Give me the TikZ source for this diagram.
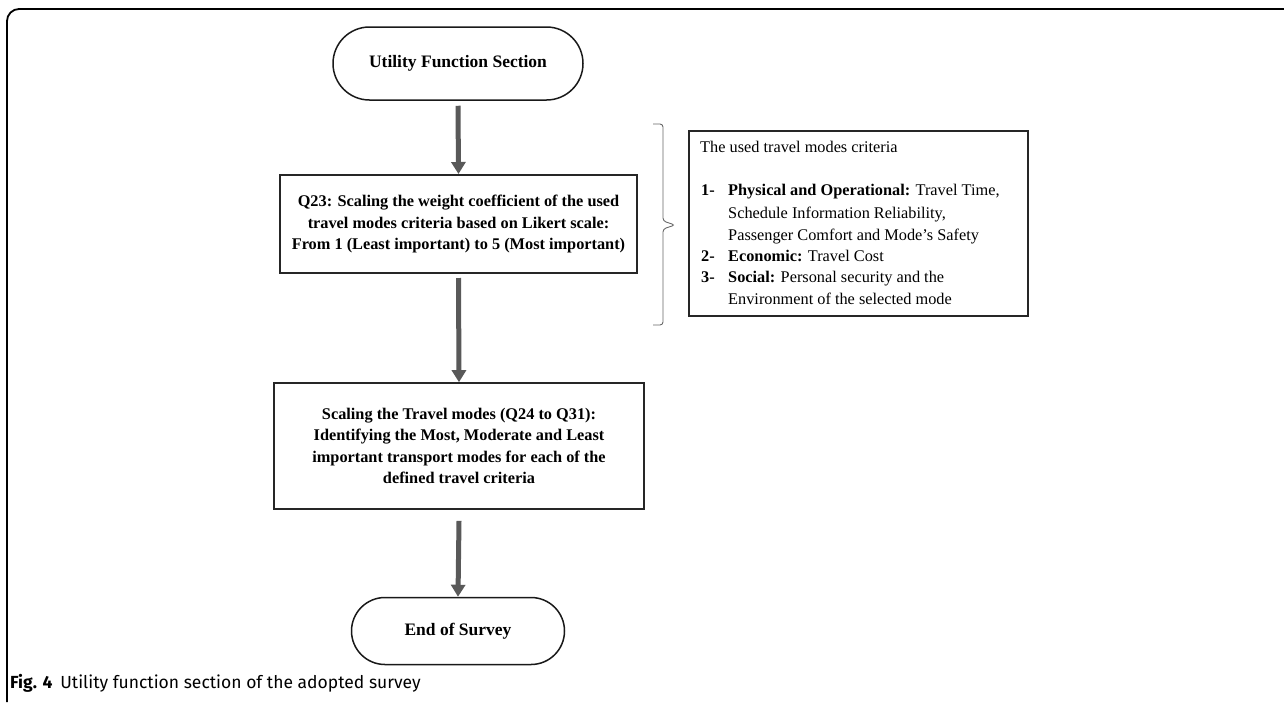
\documentclass[tikz,border=0pt]{standalone}
\usepackage{fontspec}
\setmainfont{Liberation Serif}
\newfontfamily\capfont{Fira Sans}
\usetikzlibrary{arrows.meta,shapes.misc}
\tikzset{
  stadium/.style={rounded rectangle, draw=black!90, line width=1.5pt, minimum width=250pt, minimum height=73pt, inner sep=0pt, font=\fontsize{17.5}{21}\selectfont\bfseries},
  stepbox/.style={rectangle, draw=black!85, line width=2pt, inner sep=0pt, align=center, font=\fontsize{16.3}{21.5}\selectfont\bfseries},
  flowarrow/.style={draw=black!65, line width=5pt, -{Triangle[width=14pt,length=12pt]}},
  crit/.style={anchor=base west, inner sep=0pt, font=\fontsize{16.3}{21.5}\selectfont},
  bracel/.style={draw=black!60, line width=0.9pt, rounded corners=3pt},
  framebox/.style={draw=black, line width=1.8pt, rounded corners=12pt}
}
\begin{document}
\begin{tikzpicture}[x=1pt,y=-1pt]
\useasboundingbox (0,0) rectangle (1284,702);
\fill[white] (0,0) rectangle (1284,702);
% frame
\coordinate (fb) at (7,702);
\coordinate (fc) at (7,9);
\coordinate (fr) at (1284,9);
\draw[framebox] (fb) -- (fc) -- (fr);
% flow nodes
\node[stadium] (start) at (458,63.5) {Utility Function Section};
\node[stepbox, minimum width=357pt, minimum height=98pt] (q23) at (458.5,224) {Q23: Scaling the weight coefficient of the used\\ travel modes criteria based on Likert scale:\\ From 1 (Least important) to 5 (Most important)};
\node[stepbox, line width=1.6pt, minimum width=370pt, minimum height=126pt] (scal) at (459,446) {Scaling the Travel modes (Q24 to Q31):\\ Identifying the Most, Moderate and Least\\ important transport modes for each of the\\ defined travel criteria};
\node[stadium, minimum width=213pt, minimum height=67pt] (end) at (458,631) {End of Survey};
% arrows
\draw[flowarrow] ([yshift=-5pt]start.south) -- (q23.north);
\draw[flowarrow] ([yshift=-4pt]q23.south) -- (scal.north);
\draw[flowarrow] ([yshift=-11pt]scal.south) -- (end.north);
% brace
\draw[bracel] (653,124) -- (663,124) -- (663,221) -- (675,225) -- (663,229) -- (663,325) -- (653,325);
% criteria box
\node[draw=black!85, line width=2.2pt, minimum width=339pt, minimum height=185pt, inner sep=0pt] (crit) at (858.5,223.5) {};
\node[crit] (h) at (700,152.5) {The used travel modes criteria};
\node[crit] (n1) at (701,195.5) {\bfseries 1-};
\node[crit] (t1a) at (728,195.5) {\textbf{Physical and Operational:} Travel Time,};
\node[crit] (t1b) at (728,218.5) {Schedule Information Reliability,};
\node[crit] (t1c) at (728,240.5) {Passenger Comfort and Mode’s Safety};
\node[crit] (n2) at (701,261.5) {\bfseries 2-};
\node[crit] (t2) at (728,261.5) {\textbf{Economic:} Travel Cost};
\node[crit] (n3) at (701,282.5) {\bfseries 3-};
\node[crit] (t3a) at (728,282.5) {\textbf{Social:} Personal security and the};
\node[crit] (t3b) at (728,304.5) {Environment of the selected mode};
% caption
\node[anchor=west, inner sep=0pt, font=\capfont\fontsize{17.5}{20}\selectfont] (cap) at (10,683) {\textbf{Fig. 4}\hspace{8pt}Utility function section of the adopted survey};
\end{tikzpicture}
\end{document}
